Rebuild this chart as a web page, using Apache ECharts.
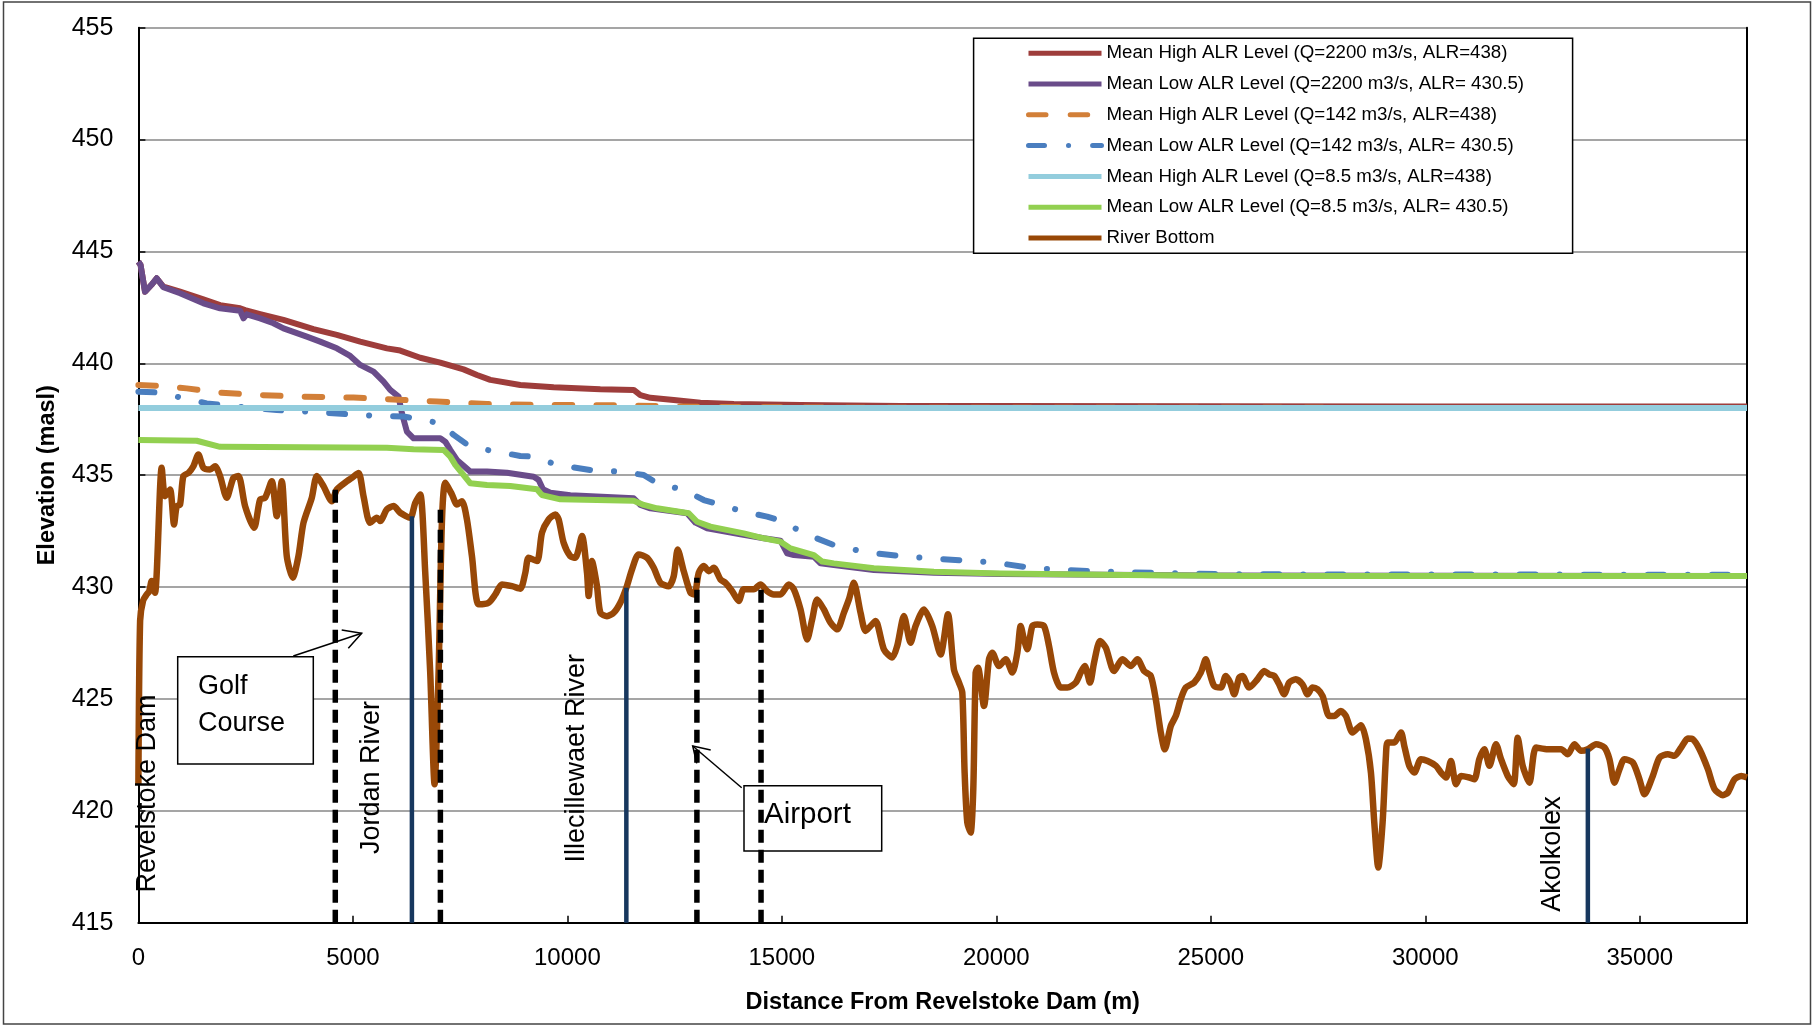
<!DOCTYPE html>
<html>
<head>
<meta charset="utf-8">
<script src="https://cdn.jsdelivr.net/npm/echarts@6/dist/echarts.min.js"></script>
<style>
html,body{margin:0;padding:0;background:#fff;}
#c{width:1813px;height:1026px;}
</style>
</head>
<body>
<div id="c"></div>
<script>
// ---------- tick labels ----------
const xTicks = [0, 5000, 10000, 15000, 20000, 25000, 30000, 35000];
const yTicks = [415, 420, 425, 430, 435, 440, 445, 450, 455];

// ---------- series names ----------
const seriesNames = [
  'Mean High ALR Level (Q=2200 m3/s, ALR=438)',
  'Mean Low ALR Level (Q=2200 m3/s, ALR= 430.5)',
  'Mean High ALR Level (Q=142 m3/s, ALR=438)',
  'Mean Low ALR Level (Q=142 m3/s, ALR= 430.5)',
  'Mean High ALR Level (Q=8.5 m3/s, ALR=438)',
  'Mean Low ALR Level (Q=8.5 m3/s, ALR= 430.5)',
  'River Bottom'
];

// ---------- series values [distance m, elevation masl] ----------
const highQ2200 = [[0,444.54],[50,444.4],[154,443.2],[300,443.5],[426,443.8],[582,443.43],[971,443.2],[1515,442.86],[1904,442.6],[2371,442.46],[2488,442.38],[2837,442.2],[3382,441.94],[4082,441.53],[4626,441.27],[5170,440.97],[5793,440.67],[6104,440.57],[6570,440.25],[7037,440.03],[7581,439.73],[7893,439.48],[8204,439.26],[8903,439.03],[9681,438.93],[10769,438.84],[11547,438.81],[11702,438.58],[11935,438.46],[12480,438.36],[13102,438.24],[13880,438.18],[15435,438.14],[17768,438.09],[20101,438.09],[25000,438.08],[30000,438.07],[37500,438.07]];

const lowQ2200 = [[0,444.54],[50,444.4],[154,443.2],[300,443.5],[426,443.8],[582,443.4],[971,443.13],[1515,442.68],[1904,442.46],[2371,442.35],[2449,442.01],[2526,442.19],[2837,442.01],[3149,441.79],[3382,441.56],[3926,441.19],[4237,440.97],[4626,440.67],[4937,440.33],[5170,439.93],[5482,439.63],[5715,439.18],[5870,438.81],[6065,438.51],[6143,437.77],[6259,436.95],[6415,436.65],[7037,436.65],[7154,436.5],[7270,436.13],[7426,435.68],[7737,435.16],[8126,435.16],[8593,435.11],[9215,434.93],[9331,434.79],[9432,434.37],[9603,434.22],[10070,434.1],[11547,433.97],[11702,433.67],[11935,433.52],[12791,433.3],[12986,432.88],[13258,432.63],[14036,432.36],[14580,432.18],[14969,432.07],[15124,431.51],[15280,431.43],[15746,431.36],[15902,431.06],[16213,430.99],[17146,430.76],[18546,430.64],[20101,430.58],[25000,430.52],[37500,430.5]];

const highQ142 = [[0,439.03],[400,439.0],[1126,438.88],[1904,438.69],[2837,438.58],[3849,438.51],[5015,438.47],[6182,438.36],[6959,438.29],[8126,438.18],[9681,438.14],[11237,438.12],[13000,438.06],[16000,438.02],[37500,438.0]];

const lowQ142 = [[0,438.73],[400,438.7],[893,438.51],[1593,438.21],[2293,438.06],[3226,437.91],[4004,437.84],[4859,437.73],[5482,437.66],[6182,437.62],[6415,437.54],[7037,437.32],[7348,436.8],[7737,436.27],[8359,436.05],[8903,435.86],[9214,435.83],[9758,435.46],[10536,435.23],[11236,435.16],[11780,435.01],[12091,434.64],[12714,434.34],[13180,433.89],[13569,433.67],[14113,433.37],[14658,433.15],[15046,432.92],[15513,432.4],[16213,431.88],[16991,431.54],[17768,431.39],[18468,431.28],[19324,431.18],[19985,431.09],[20879,430.84],[22279,430.7],[23990,430.62],[25545,430.57],[37500,430.55]];

const highQ8 = [[0,438.0],[37500,438.0]];

const lowQ8 = [[0,436.57],[1360,436.54],[1904,436.27],[5793,436.23],[6415,436.16],[7115,436.13],[7270,435.83],[7387,435.46],[7737,434.64],[8126,434.56],[8670,434.52],[9291,434.37],[9408,434.11],[9836,433.92],[11547,433.86],[11780,433.67],[12091,433.52],[12830,433.3],[13024,432.92],[13335,432.7],[14113,432.4],[14580,432.18],[14969,432.03],[15202,431.73],[15746,431.43],[15940,431.14],[16213,431.06],[17146,430.84],[18546,430.69],[20101,430.61],[23000,430.54],[26000,430.5],[37500,430.5]];

const riverBottom = [[0,421.2],[40,428.5],[110,429.4],[193,429.67],[250,429.8],[310,430.27],[387,429.75],[543,435.33],[621,434.06],[737,434.36],[831,432.8],[893,433.62],[971,433.69],[1048,434.96],[1165,435.1],[1282,435.4],[1398,435.92],[1515,435.33],[1670,435.25],[1787,435.4],[1904,434.96],[2059,433.99],[2215,434.88],[2332,434.96],[2487,433.62],[2697,432.65],[2837,433.91],[2954,433.99],[3109,434.73],[3226,433.17],[3343,434.73],[3459,431.38],[3599,430.42],[3731,431.38],[3848,432.87],[4042,433.99],[4159,434.96],[4315,434.51],[4509,433.84],[4626,434.36],[4859,434.73],[4976,434.88],[5131,435.1],[5248,434.06],[5403,432.87],[5559,433.1],[5637,432.95],[5792,433.47],[5948,433.62],[6103,433.32],[6337,433.1],[6453,433.76],[6570,434.14],[6687,430.64],[6803,426.18],[6904,421.19],[6998,426.18],[7075,432.87],[7153,434.66],[7309,434.14],[7425,433.69],[7542,433.84],[7659,433.02],[7776,431.38],[7931,429.23],[8164,429.3],[8320,429.67],[8475,430.12],[8709,430.04],[8903,429.93],[9020,430.64],[9097,431.31],[9292,431.16],[9409,432.43],[9564,433.02],[9719,433.24],[9797,433.02],[9913,431.98],[10069,431.38],[10186,431.31],[10341,432.28],[10458,430.64],[10497,429.6],[10574,431.16],[10691,430.04],[10769,428.85],[10924,428.7],[11080,428.85],[11235,429.3],[11375,429.97],[11508,430.79],[11663,431.46],[11858,431.31],[12013,430.86],[12169,430.19],[12363,430.04],[12480,430.49],[12573,431.68],[12713,430.71],[12869,429.75],[12962,429.67],[13063,430.64],[13180,430.94],[13296,430.71],[13413,430.86],[13569,430.34],[13685,430.19],[13841,429.82],[13996,429.38],[14113,429.9],[14346,429.9],[14502,430.12],[14657,429.82],[14813,429.67],[14968,429.67],[15163,430.12],[15280,429.9],[15435,429.0],[15591,427.66],[15708,428.56],[15824,429.45],[15980,429.0],[16135,428.41],[16291,428.11],[16446,428.85],[16563,429.45],[16679,430.19],[16835,428.85],[16951,428.04],[17068,428.26],[17185,428.48],[17379,427.22],[17574,426.85],[17690,427.37],[17846,428.71],[18001,427.51],[18118,428.26],[18313,429.0],[18507,428.26],[18701,426.99],[18872,428.78],[19012,426.32],[19129,425.73],[19207,425.28],[19261,421.71],[19323,419.48],[19401,419.03],[19463,420.97],[19518,426.18],[19572,426.4],[19712,424.69],[19829,426.77],[19906,427.07],[20062,426.47],[20218,426.77],[20373,426.18],[20490,427.07],[20568,428.26],[20645,427.66],[20723,427.22],[20840,428.26],[20956,428.33],[21112,428.26],[21228,427.37],[21345,426.18],[21501,425.51],[21656,425.51],[21851,425.73],[21967,426.18],[22061,426.47],[22185,425.73],[22278,426.62],[22418,427.59],[22551,427.29],[22745,426.25],[22940,426.77],[23134,426.47],[23290,426.77],[23445,426.25],[23601,426.03],[23717,424.99],[23834,423.5],[23927,422.75],[24067,423.79],[24184,424.24],[24300,424.99],[24417,425.51],[24611,425.73],[24767,426.18],[24884,426.77],[24962,426.25],[25078,425.58],[25234,425.51],[25350,426.03],[25452,425.73],[25545,425.21],[25662,425.95],[25739,426.03],[25895,425.51],[26089,425.88],[26245,426.25],[26361,426.1],[26478,426.03],[26595,425.65],[26711,425.21],[26828,425.73],[26983,425.88],[27139,425.65],[27256,425.21],[27373,425.51],[27489,425.43],[27606,425.13],[27761,424.24],[27878,424.24],[28033,424.46],[28150,424.24],[28305,423.5],[28500,423.83],[28616,423.2],[28733,421.71],[28811,419.48],[28904,417.47],[29005,419.48],[29083,422.46],[29122,423.05],[29277,423.05],[29433,423.5],[29511,422.9],[29627,422.01],[29744,421.71],[29900,422.31],[30055,422.23],[30249,422.01],[30366,421.71],[30483,421.49],[30599,422.23],[30716,421.19],[30833,421.56],[31027,421.49],[31144,421.41],[31261,422.31],[31377,422.75],[31494,422.01],[31649,422.98],[31766,422.31],[31922,421.56],[32061,421.19],[32155,423.27],[32271,422.01],[32427,421.26],[32582,422.83],[32855,422.75],[33166,422.75],[33321,422.53],[33477,422.98],[33632,422.68],[33788,422.75],[33982,422.98],[34177,422.83],[34293,422.31],[34410,421.26],[34527,421.86],[34643,422.31],[34838,422.16],[34993,421.41],[35110,420.74],[35304,421.56],[35460,422.38],[35654,422.53],[35810,422.46],[35965,422.83],[36121,423.23],[36238,423.2],[36393,422.75],[36588,421.86],[36743,420.97],[36938,420.7],[37054,420.82],[37210,421.41],[37365,421.56],[37500,421.49]];

// ---------- vertical reference markers ----------
const markerX    = [4590, 6376, 7040, 11375, 13020, 14515, 33790];
const markerTop  = [434.4, 433.17, 433.62, 429.97, 430.42, 430.19, 422.78];
const markerKind = ['dashed', 'solid', 'dashed', 'solid', 'dashed', 'dashed', 'solid'];
const axisMin = 415;

// ---------- styles ----------
const FONT = 'Liberation Sans';
const colors = ['#9E3D3B', '#6A4C8A', '#D27F38', '#4A7EBF', '#93CDDD', '#92D050', '#984807'];
const lineStyles = [
  {width: 6},
  {width: 6},
  {width: 6, type: [17.5, 24.2], cap: 'round'},
  {width: 6, type: [16, 24, 0.1, 24], cap: 'round'},
  {width: 6},
  {width: 6},
  {width: 6.5}
];
const dataSets = [highQ2200, lowQ2200, highQ142, lowQ142, highQ8, lowQ8, riverBottom];

const series = dataSets.map((d, i) => ({
  name: seriesNames[i],
  type: 'line',
  data: d,
  symbol: 'none',
  smooth: i === 6 ? 0.25 : false,
  lineStyle: Object.assign({color: colors[i], join: 'round'}, lineStyles[i]),
  itemStyle: {color: colors[i]},
  z: 2,
  silent: true
}));

markerX.forEach((x, i) => {
  const dashed = markerKind[i] === 'dashed';
  series.push({
    type: 'line',
    data: [[x, axisMin], [x, markerTop[i]]],
    symbol: 'none',
    lineStyle: dashed ? {color: '#000', width: 5.5, type: [13, 7]} : {color: '#17375E', width: 4.5},
    z: 3,
    silent: true
  });
});

const chart = echarts.init(document.getElementById('c'), null, {renderer: 'canvas'});

const rotText = (txt, cx, cy) => ({
  type: 'text', x: cx, y: cy, rotation: Math.PI / 2, z: 5,
  style: {text: txt, fontSize: 27, fontFamily: FONT, fill: '#000', align: 'center', verticalAlign: 'middle'}
});

const option = {
  animation: false,
  backgroundColor: '#fff',
  grid: {left: 138.4, right: 66, top: 27.7, bottom: 103.3, containLabel: false},
  xAxis: {
    type: 'value', min: 0, max: 37500, interval: 5000,
    name: 'Distance From Revelstoke Dam (m)', nameLocation: 'middle', nameGap: 68,
    nameTextStyle: {fontSize: 23.5, fontWeight: 'bold', fontFamily: FONT, color: '#000'},
    axisLine: {lineStyle: {color: '#000', width: 2}},
    axisTick: {show: true, inside: true, length: 7, lineStyle: {color: '#000', width: 1.5}},
    axisLabel: {fontSize: 24, fontFamily: FONT, color: '#000', margin: 24, showMaxLabel: false,
      formatter: v => xTicks.indexOf(v) >= 0 ? String(v) : ''},
    splitLine: {show: false}
  },
  yAxis: [{
    type: 'value', min: 415, max: 455, interval: 5,
    name: 'Elevation (masl)', nameLocation: 'middle', nameGap: 78.5, nameRotate: 90,
    nameTextStyle: {fontSize: 23.5, fontWeight: 'bold', fontFamily: FONT, color: '#000'},
    axisLine: {show: true, lineStyle: {color: '#000', width: 2}},
    axisTick: {show: true, inside: true, length: 7, lineStyle: {color: '#000', width: 1.5}},
    axisLabel: {fontSize: 25, fontFamily: FONT, color: '#000', margin: 25,
      formatter: v => yTicks.indexOf(v) >= 0 ? String(v) : ''},
    splitLine: {show: true, lineStyle: {color: '#878787', width: 1.5}}
  }, {
    type: 'value', min: 415, max: 455, interval: 5, position: 'right',
    axisLine: {show: true, lineStyle: {color: '#000', width: 2}},
    axisTick: {show: false}, axisLabel: {show: false}, splitLine: {show: false}
  }],
  legend: {
    orient: 'vertical', left: 1026, top: 43.7, padding: 0,
    itemWidth: 73, itemHeight: 14, itemGap: 11.8,
    data: seriesNames,
    itemStyle: {opacity: 0, color: 'rgba(0,0,0,0)', borderColor: 'rgba(0,0,0,0)', borderWidth: 0},
    lineStyle: {width: 5},
    textStyle: {fontSize: 18.7, fontFamily: FONT, color: '#000'},
    selectedMode: false, z: 20
  },
  graphic: [
    {type: 'rect', shape: {x: 3.5, y: 2, width: 1807, height: 1022}, style: {fill: 'none', stroke: '#444', lineWidth: 1.5}, z: 1, silent: true},
    {type: 'rect', shape: {x: 973.6, y: 38.2, width: 599, height: 215}, style: {fill: '#fff', stroke: '#000', lineWidth: 1.5}, z: 1, silent: true},
    {type: 'rect', shape: {x: 177.7, y: 656.7, width: 135.6, height: 107.3}, style: {fill: '#fff', stroke: '#000', lineWidth: 1.5}, z: 1, silent: true},
    {type: 'text', x: 198, y: 687, z: 5, style: {text: 'Golf', fontSize: 27, fontFamily: FONT, fill: '#000', align: 'left', verticalAlign: 'middle'}},
    {type: 'text', x: 198, y: 724, z: 5, style: {text: 'Course', fontSize: 27, fontFamily: FONT, fill: '#000', align: 'left', verticalAlign: 'middle'}},
    {type: 'polyline', shape: {points: [[293.3, 656], [361.7, 633.3]]}, style: {stroke: '#000', lineWidth: 1.5, fill: 'none'}, z: 5},
    {type: 'polyline', shape: {points: [[341.7, 630], [361.7, 633.3], [348.3, 648.3]]}, style: {stroke: '#000', lineWidth: 1.5, fill: 'none'}, z: 5},
    {type: 'rect', shape: {x: 744, y: 785.7, width: 137.7, height: 65.3}, style: {fill: '#fff', stroke: '#000', lineWidth: 1.5}, z: 1, silent: true},
    {type: 'text', x: 764, y: 815, z: 5, style: {text: 'Airport', fontSize: 29.5, fontFamily: FONT, fill: '#000', align: 'left', verticalAlign: 'middle'}},
    {type: 'polyline', shape: {points: [[741.7, 787.7], [692.7, 746]]}, style: {stroke: '#000', lineWidth: 1.5, fill: 'none'}, z: 5},
    {type: 'polyline', shape: {points: [[710.7, 750], [692.7, 746], [696.7, 763.3]]}, style: {stroke: '#000', lineWidth: 1.5, fill: 'none'}, z: 5},
    rotText('Revelstoke Dam', 147.5, 793.5),
    rotText('Jordan River', 371.7, 777.5),
    rotText('Illecillewaet River', 576.3, 758.3),
    rotText('Akolkolex', 1553, 854)
  ],
  series: series
};
chart.setOption(option);
</script>
</body>
</html>
